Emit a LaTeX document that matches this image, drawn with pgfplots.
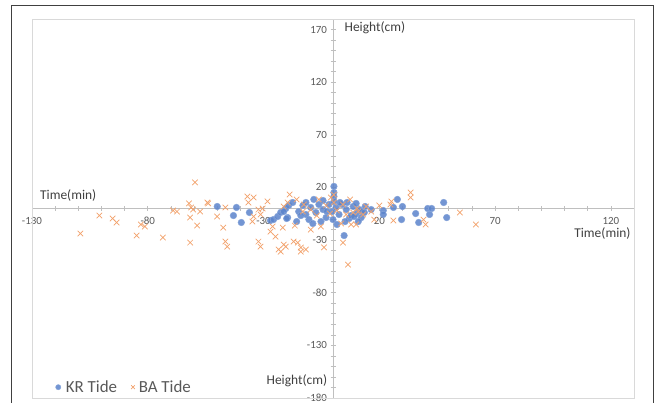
\documentclass[border=0pt]{standalone}
\usepackage{pgfplots}
\pgfplotsset{compat=1.18}
\usepackage{fontspec}
\setmainfont{Carlito}
\definecolor{krblue}{HTML}{4472C4}
\definecolor{baorange}{HTML}{ED7D31}
\definecolor{ticktext}{HTML}{595959}
\definecolor{labeltext}{HTML}{3F3F3F}
\definecolor{axgray}{HTML}{BFBFBF}
\definecolor{framegray}{HTML}{D9D9D9}
\definecolor{outerframe}{HTML}{404040}

\pgfplotstableread{
x y
-50 1.9
-41.7 1
-43 -6.7
-39.6 -13.3
-36.1 -3.8
-27 -11.4
-25.7 -10.5
-23.9 -7.6
-22.6 -3.8
-20.4 0
-19.6 -8.6
-21.3 -2.9
-19.1 2.9
-17.4 5.7
-14.8 -2.9
-13.0 2.9
-11.7 -5.7
-9.6 1.0
-7.4 -3.8
-6.1 3.8
-4.3 -1.0
-3.0 -8.6
-1.7 3.8
-0.4 -2.9
1.3 1.0
2.6 -5.7
3.9 3.8
5.7 -1.0
7.0 -9.5
8.7 1.9
10.0 -4.8
11.3 -1.0
3.0 5.7
-10.4 -10.5
-15.7 -12.4
-20.0 -9.5
-5.2 -12.4
0.0 -10.5
5.2 -12.4
1.7 -15.2
-8.7 -14.3
-13.9 -6.7
-2.6 -2.9
7.8 -6.7
12.2 -2.9
13.9 1.9
10.0 4.8
6.1 5.7
-4.3 7.6
-8.3 8.6
-11.7 5.7
0.4 21
0.4 15.2
0.4 11.4
0.4 6.7
4.8 -25.7
27.8 8.6
26.1 1
30 1.9
35.7 -4.8
29.6 -10.5
37 -13.3
40.9 0
42.6 0
41.7 -5.7
47.8 5.7
49.1 -8.6
21.7 -1.9
21.7 -5.7
16.5 -1
13.5 -3.8
12.2 -8.6
10.9 -12.4
9.1 -7.6
}\krdata

\pgfplotstableread{
x y
-109.1 -23.8
-100.9 -6.7
-95.2 -9.5
-93.5 -13.3
-84.8 -25.7
-83.0 -15.2
-81.3 -17.1
-73.5 -27.6
-69.1 -1.9
-67.4 -2.9
-62.2 4.8
-61.3 1.0
-61.7 -8.6
-59.6 24.8
-58.7 -16.2
-61.7 -32.4
-60.4 -1.0
-57.4 -2.9
-54.3 5.7
-53.9 4.8
-50 -7.6
-47.4 -18.1
-46.5 -31.4
-45.7 -36.2
-46.5 1
-37 11.4
-34.3 10.5
-36.5 5.7
-30.4 0
-32.2 -1
-31.3 -5.7
-34.3 -7.6
-34.8 -12.4
-28.3 6.7
-26.1 -17.1
-27 -21.9
-24.8 -26.7
-32.2 -31.4
-31.3 -36.2
-23.5 -39
-21.3 1.9
-19.6 5.7
-21.7 -18.1
-22.6 -41
-20.4 -36.2
-21.3 -34.3
-17 -31.4
-15.2 -32.4
-13.9 -37.1
-13.9 -41
-11.7 -39
-3.9 -37
-9.6 -20
4.3 -32.4
6.5 -53.3
-18.7 13.3
-15.7 8.6
-12.6 3.8
-9.6 -1.0
-6.1 8.6
-3.0 2.9
-0.9 10.5
1.7 -1.9
4.3 3.8
7.4 8.6
10.4 0
13.0 -5.7
-1.3 -4.8
-7.0 -6.7
-13.0 -2.9
-16.5 -16.2
-5.2 -17.1
3.5 -14.3
7.8 -15.2
10.9 -2.9
5.7 -5.7
0.4 5.7
0.4 13
8.7 -3.8
14.3 1.9
16.5 -2.9
20 2.9
33.5 15.2
33.5 10.5
25.2 6.7
24.8 3.8
26.1 -11.4
39.1 -10.5
40 -15.2
54.8 -3.8
61.7 -15.2
17.8 -10.5
10 -15.2
}\badata

\begin{document}
\begin{tikzpicture}
\path[use as bounding box] (-32bp,-5bp) rectangle (627bp,398bp);
\draw[outerframe, line width=1bp] (-20bp,-10bp) -- (-20bp,392bp) -- (621bp,392bp) -- (621bp,-10bp);
\begin{axis}[
  at={(0,0)}, anchor=south west,
  scale only axis, width=602bp, height=379bp,
  xmin=-130, xmax=130, ymin=-180, ymax=180,
  axis lines=middle,
  axis line style={axgray, line width=0.75bp, -},
  xtick={-130,-80,...,120}, ytick={-180,-130,...,170},
  minor x tick num=4, minor y tick num=4,
  tick align=center, major tick length=5bp, minor tick length=5bp,
  tick style={axgray, line width=0.6bp},
  every tick label/.append style={font=\fontsize{11}{12}\selectfont, text=ticktext},
  xticklabel style={yshift=-2.5bp},
  /pgf/number format/assume math mode=true,
  clip=false,
  legend style={at={(axis description cs:0.034,0.0)}, anchor=south west,
    draw=none, fill=none, legend columns=2,
    font=\fontsize{17}{19}\selectfont, text=ticktext,
    /tikz/every even column/.append style={column sep=12bp}},
  legend cell align=left,
  legend image post style={mark size=2.6bp},
  after end axis/.code={
    \draw[framegray, line width=0.75bp] (rel axis cs:0,0) rectangle (rel axis cs:1,1);
  },
]
\addplot[only marks, mark=*, mark size=3.3bp,
  mark options={fill=krblue!88!white, draw=krblue!65!white, fill opacity=0.85, line width=0.5bp}]
  table[x=x, y=y] {\krdata};
\addlegendentry{\hspace{3bp}KR Tide}
\addplot[only marks, mark=x, mark size=3.9bp,
  mark options={draw=baorange!72!white, line width=0.7bp}]
  table[x=x, y=y] {\badata};
\addlegendentry{\hspace{2bp}BA Tide}
\node[anchor=west, font=\fontsize{13.5}{15}\selectfont, text=labeltext] at (axis cs:-128,12) {Time(min)};
\node[anchor=east, font=\fontsize{13.5}{15}\selectfont, text=labeltext] at (axis cs:130,-23.5) {Time(min)};
\node[anchor=west, font=\fontsize{13.5}{15}\selectfont, text=labeltext] at (axis cs:3.5,171.5) {Height(cm)};
\node[anchor=east, font=\fontsize{13.5}{15}\selectfont, text=labeltext] at (axis cs:-1,-164) {Height(cm)};
\end{axis}
\end{tikzpicture}
\end{document}
